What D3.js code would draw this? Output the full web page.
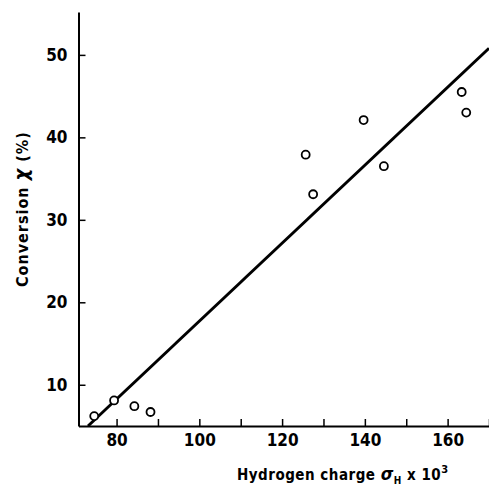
<!DOCTYPE html>
<html>
<head>
<meta charset="utf-8">
<script src="https://cdn.jsdelivr.net/npm/d3@7"></script>
<style>
  body { margin: 0; background: #fff; }
  svg { display: block; }
  text { font-family: "DejaVu Sans", sans-serif; font-stretch: condensed; font-weight: bold; fill: #000; }
</style>
</head>
<body>
<div id="chart"></div>
<script>
// measured points: hydrogen charge (x10^3) vs conversion (%)
const charge = [74.6, 79.4, 84.3, 88.2, 125.7, 127.5, 139.7, 144.6, 163.4, 164.5]
const conversion = [6.2, 8.1, 7.4, 6.7, 37.9, 33.1, 42.1, 36.5, 45.5, 43.0]

// fitted straight line, ends
const fitCharge = [73.1, 170]
const fitConversion = [5.0, 50.8]

const xTicks = [80, 90, 100, 110, 120, 130, 140, 150, 160, 170]
const xLabels = [80, 100, 120, 140, 160]
const yTicks = [10, 20, 30, 40, 50]

const width = 489
const height = 488

const svg = d3.select('#chart')
  .append('svg')
  .attr('width', width)
  .attr('height', height)

const x = d3.scaleLinear().domain([70.8, 170]).range([78.5, 489])
const y = d3.scaleLinear().domain([5, 55.2]).range([426, 12])

// axes
svg.append('g')
  .attr('transform', `translate(0,${y(5)})`)
  .call(d3.axisBottom(x)
    .tickValues(xTicks)
    .tickSizeInner(-7)
    .tickSizeOuter(0)
    .tickPadding(8)
    .tickFormat(d => xLabels.includes(d) ? d : ''))

svg.append('g')
  .attr('transform', `translate(${x(70.8)},0)`)
  .call(d3.axisLeft(y)
    .tickValues(yTicks)
    .tickSizeInner(-7)
    .tickSizeOuter(0)
    .tickPadding(11))

svg.selectAll('.domain').attr('stroke', '#000').attr('stroke-width', 2)
svg.selectAll('.tick line').attr('stroke', '#000').attr('stroke-width', 1.5)
svg.selectAll('.tick text').style('font-size', '17px')

// fit line
const pts = fitCharge.map((c, i) => [c, fitConversion[i]])
svg.append('path')
  .datum(pts)
  .attr('fill', 'none')
  .attr('stroke', '#000')
  .attr('stroke-width', 3)
  .attr('d', d3.line().x(d => x(d[0])).y(d => y(d[1])))

// data circles
svg.append('g')
  .selectAll('circle')
  .data(charge)
  .join('circle')
  .attr('cx', d => x(d))
  .attr('cy', (d, i) => y(conversion[i]))
  .attr('r', 4)
  .attr('fill', '#fff')
  .attr('stroke', '#000')
  .attr('stroke-width', 1.8)

// x label
const xl = svg.append('text')
  .attr('x', 237)
  .attr('y', 480)
  .style('font-size', '15px')
  .style('letter-spacing', '0.5px')
xl.append('tspan').text('Hydrogen charge ')
xl.append('tspan').style('font-style', 'italic').style('font-size', '18px').text('σ')
xl.append('tspan').attr('dy', 4).style('font-size', '10px').text('H')
xl.append('tspan').attr('dy', -4).text(' x 10')
xl.append('tspan').attr('dy', -7).style('font-size', '11px').text('3')

// y label
const yl = svg.append('text')
  .attr('transform', 'translate(28,287) rotate(-90)')
  .style('font-size', '16px')
  .style('letter-spacing', '1px')
yl.append('tspan').text('Conversion ')
yl.append('tspan').style('font-style', 'italic').style('font-size', '20px').text('χ')
yl.append('tspan').text(' (%)')
</script>
</body>
</html>
